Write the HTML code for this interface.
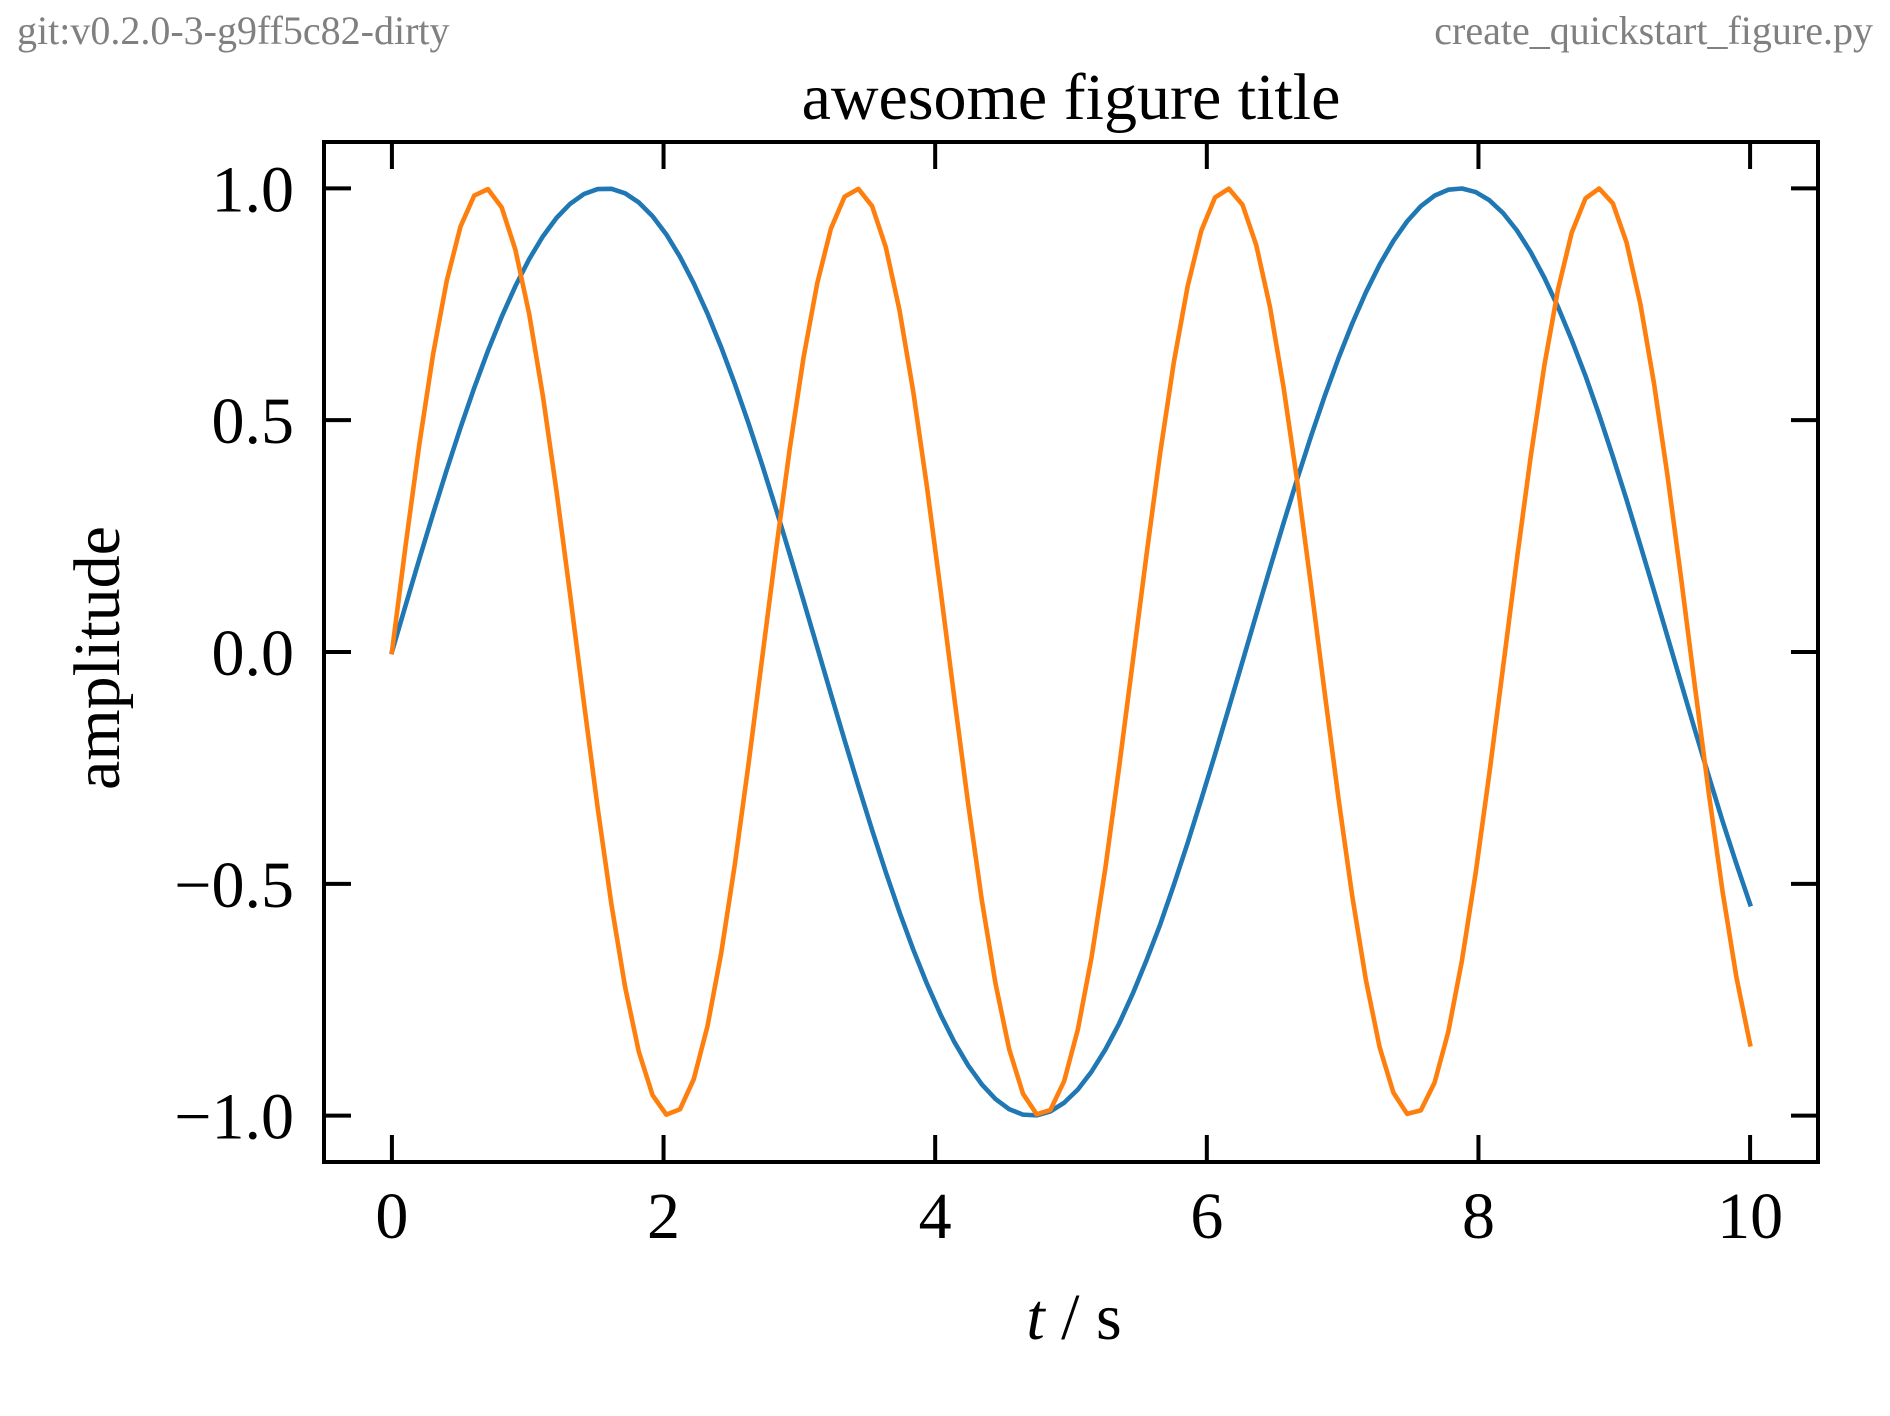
<!DOCTYPE html>
<html><head><meta charset="utf-8"><style>
html,body{margin:0;padding:0;background:#fff;}
svg{display:block;font-family:"Liberation Serif","DejaVu Serif",serif;}
</style></head><body>
<svg id="chart" width="1890" height="1416" viewBox="0 0 1890 1416" xmlns="http://www.w3.org/2000/svg">
<rect x="0" y="0" width="1890" height="1416" fill="#fff"/>
<text x="17" y="44" font-size="40" fill="#808080">git:v0.2.0-3-g9ff5c82-dirty</text>
<text x="1873" y="44" font-size="40" fill="#808080" text-anchor="end">create_quickstart_figure.py</text>
<text x="1071" y="119" font-size="66" text-anchor="middle">awesome figure title</text>
<text transform="translate(119,658) rotate(-90)" font-size="66" text-anchor="middle">amplitude</text>
<text x="1074" y="1339" font-size="66" text-anchor="middle"><tspan font-style="italic">t</tspan> / s</text>
<g id="plot"></g>
<g id="axes"></g>
</svg>
<script>
const xTicks = [0, 2, 4, 6, 8, 10];
const xTickLabels = ["0", "2", "4", "6", "8", "10"];
const yTicks = [-1, -0.5, 0, 0.5, 1];
const yTickLabels = ["\u22121.0", "\u22120.5", "0.0", "0.5", "1.0"];
const sinT = [0,0.1008,0.2006,0.2984,0.3931,0.4839,0.5696,0.6496,0.7229,0.7891,0.8470,0.8962,0.9364,0.9669,0.9878,0.9985,0.9990,0.9893,0.9696,0.9398,0.9008,0.8523,0.7952,0.7300,0.6574,0.5781,0.4928,0.4026,0.3082,0.2107,0.1111,0.0103,-0.0907,-0.1906,-0.2886,-0.3837,-0.4749,-0.5612,-0.6418,-0.7158,-0.7825,-0.8414,-0.8914,-0.9326,-0.9643,-0.9862,-0.9978,-0.9994,-0.9908,-0.9722,-0.9437,-0.9050,-0.8576,-0.8020,-0.7370,-0.6650,-0.5878,-0.5021,-0.4121,-0.3175,-0.2207,-0.1212,-0.0206,0.0803,0.1804,0.2787,0.3741,0.4658,0.5526,0.6339,0.7085,0.7761,0.8357,0.8866,0.9288,0.9615,0.9843,0.9971,0.9997,0.9920,0.9743,0.9466,0.9094,0.8629,0.8075,0.7441,0.6727,0.5958,0.5113,0.4214,0.3279,0.2303,0.1316,0.0309,-0.0700,-0.1704,-0.2690,-0.3654,-0.4567,-0.5440];
const sin23T = [0,0.2302,0.4481,0.6420,0.8012,0.9175,0.9844,0.9984,0.9590,0.8677,0.7300,0.5530,0.3464,0.1211,-0.1107,-0.3365,-0.5443,-0.7229,-0.8624,-0.9558,-0.9978,-0.9862,-0.9215,-0.8074,-0.6498,-0.4574,-0.2404,-0.0105,0.2199,0.4389,0.6344,0.7948,0.9133,0.9823,0.9990,0.9619,0.8731,0.7371,0.5618,0.3562,0.1315,-0.1003,-0.3267,-0.5355,-0.7155,-0.8573,-0.9527,-0.9971,-0.9876,-0.9257,-0.8141,-0.6581,-0.4669,-0.2500,-0.0209,0.2088,0.4293,0.6256,0.7885,0.9089,0.9805,0.9994,0.9646,0.8779,0.7446,0.5699,0.3661,0.1418,-0.0899,-0.3166,-0.5265,-0.7083,-0.8529,-0.9504,-0.9962,-0.9887,-0.9289,-0.8195,-0.6649,-0.4758,-0.2606,-0.0314,0.1995,0.4198,0.6175,0.7820,0.9046,0.9783,0.9997,0.9674,0.8826,0.7510,0.5785,0.3759,0.1524,-0.0794,-0.3067,-0.5178,-0.7010,-0.8462];
const tStart = 0, tEnd = 10;

const NS = "http://www.w3.org/2000/svg";
const L = 324, R = 1818, T = 142, B = 1162;
const xMin = -0.5, xMax = 10.5, yMin = -1.1, yMax = 1.1;
function xs(v){ return L + (v - xMin) / (xMax - xMin) * (R - L); }
function ys(v){ return B - (v - yMin) / (yMax - yMin) * (B - T); }
function mk(tag, attrs, parent){ const e = document.createElementNS(NS, tag); for (const k in attrs) e.setAttribute(k, attrs[k]); parent.appendChild(e); return e; }

const plot = document.getElementById('plot');
const axes = document.getElementById('axes');
function series(vals, color, name){
  const n = vals.length;
  const pts = vals.map((v, i) => xs(tStart + (tEnd - tStart) * i / (n - 1)).toFixed(2) + ',' + ys(v).toFixed(2)).join(' ');
  const p = mk('polyline', {points: pts, fill: 'none', stroke: color, 'stroke-width': 4.6, 'stroke-linejoin': 'round', 'stroke-linecap': 'square'}, plot);
  
  
}
series(sinT, '#1f77b4', 'series-sin-t');
series(sin23T, '#ff7f0e', 'series-sin-2-3t');

const TL = 27;
xTicks.forEach((v, i) => {
  const x = xs(v);
  const t1 = mk('line', {x1: x, y1: B, x2: x, y2: B - TL, stroke: '#000', 'stroke-width': 4}, axes);
  
  
  const t2 = mk('line', {x1: x, y1: T, x2: x, y2: T + TL, stroke: '#000', 'stroke-width': 4}, axes);
  
  
  const lb = mk('text', {x: x, y: 1238, 'font-size': 66, 'text-anchor': 'middle'}, axes);
  lb.textContent = xTickLabels[i];
  
  
});
yTicks.forEach((v, i) => {
  const y = ys(v);
  const t1 = mk('line', {x1: L, y1: y, x2: L + TL, y2: y, stroke: '#000', 'stroke-width': 4}, axes);
  
  
  const t2 = mk('line', {x1: R, y1: y, x2: R - TL, y2: y, stroke: '#000', 'stroke-width': 4}, axes);
  
  
  const lb = mk('text', {x: 294, y: y + 23, 'font-size': 66, 'text-anchor': 'end'}, axes);
  lb.textContent = yTickLabels[i];
  
  
});
const frame = mk('rect', {x: L, y: T, width: R - L, height: B - T, fill: 'none', stroke: '#000', 'stroke-width': 4}, axes);


</script>
</body></html>
